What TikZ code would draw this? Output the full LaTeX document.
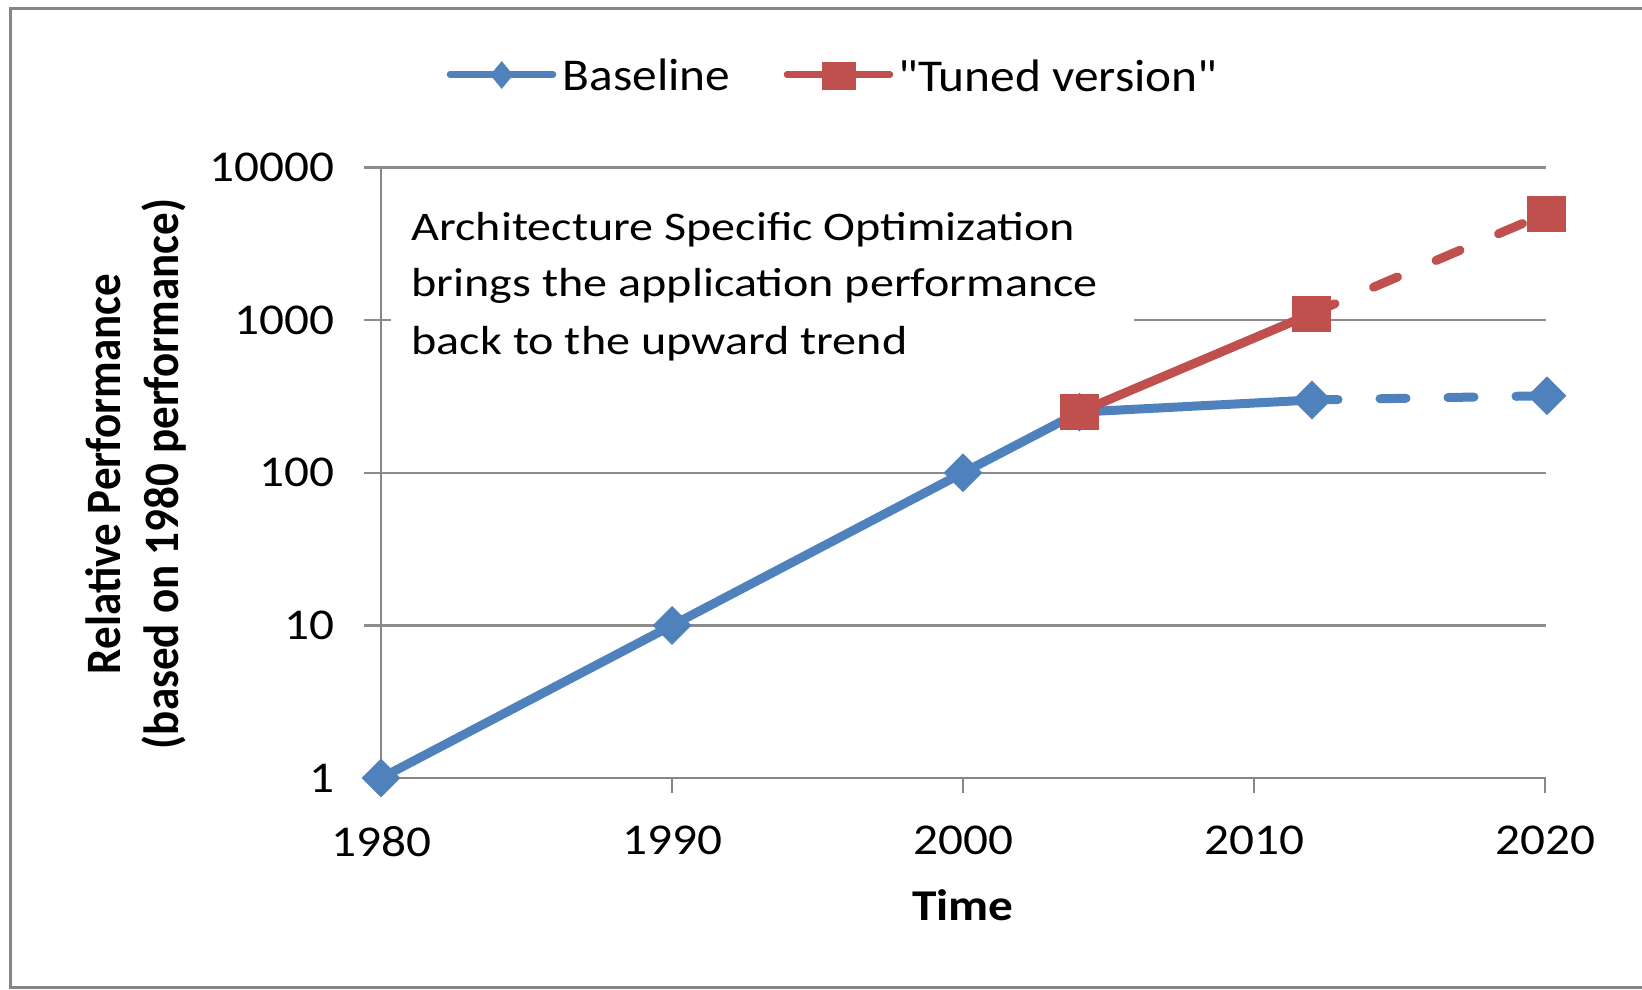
\documentclass[tikz,border=0pt]{standalone}
\usepackage{fontspec}
\setmainfont{Carlito}
\newfontfamily\legfont{Carlito}[FakeStretch=1.085]
\newfontfamily\tickfont{Carlito}[FakeStretch=1.12]
\newfontfamily\annfont{Carlito}[FakeStretch=1.185]
\usetikzlibrary{shapes.geometric}
\definecolor{seriesblue}{HTML}{4F81BD}
\definecolor{seriesred}{HTML}{C0504D}
\definecolor{gridgray}{HTML}{8C8C8C}
\definecolor{framegray}{HTML}{868686}
\tikzset{
  grid line/.style={draw=gridgray, line width=2.5pt},
  axis line/.style={draw=framegray, line width=2.5pt},
  series/.style={line width=9pt, line join=round, line cap=round},
  projection/.style={series, dash pattern=on 26pt off 42pt},
  basemark/.style={diamond, fill=seriesblue, inner sep=0pt, minimum width=39pt, minimum height=39pt},
  tunedmark/.style={rectangle, fill=seriesred, inner sep=0pt, minimum width=39pt, minimum height=36pt},
  ticklabel/.style={font=\tickfont\fontsize{44}{50}\selectfont, inner sep=0pt, text=black},
  legendtext/.style={font=\legfont\fontsize{45.5}{52}\selectfont, inner sep=0pt, anchor=base west},
  annot/.style={font=\annfont\fontsize{40.6}{50}\selectfont, inner sep=0pt, anchor=base west},
  ytitle/.style={font=\fontsize{45}{52}\bfseries\selectfont, inner sep=0pt, rotate=90, anchor=base},
}
\begin{document}
\begin{tikzpicture}[x=1pt,y=-1pt]
\useasboundingbox[fill=white] (0,0) rectangle (1642,989);

% chart frame (open on the right)
\draw[framegray, line width=3pt] (1642,8) -- (10,8) -- (10,987) -- (1642,987);

% horizontal grid lines (decades) with their left ticks
\foreach \gy in {167.6,320.2,472.8,625.4}
  \draw[grid line] (364,\gy) -- (1546,\gy);
% axes
\draw[axis line] (364,778) -- (1546,778);
\draw[axis line] (381,167.6) -- (381,778);
\foreach \gx in {381,672,963,1254,1545}
  \draw[axis line] (\gx,778) -- (\gx,793);

% y tick labels
\node[ticklabel, anchor=east] (y4) at (335,167.6) {10000};
\node[ticklabel, anchor=east] (y3) at (335,320.2) {1000};
\node[ticklabel, anchor=east] (y2) at (335,472.8) {100};
\node[ticklabel, anchor=east] (y1) at (335,625.4) {10};
\node[ticklabel, anchor=east] (y0) at (335,778) {1};

% x tick labels
\node[ticklabel, anchor=north] (x1980) at (381,826) {1980};
\node[ticklabel, anchor=north] (x1990) at (672,826) {1990};
\node[ticklabel, anchor=north] (x2000) at (963,826) {2000};
\node[ticklabel, anchor=north] (x2010) at (1254,826) {2010};
\node[ticklabel, anchor=north] (x2020) at (1545,826) {2020};

% axis titles
\node[ticklabel, font=\tickfont\fontsize{44}{50}\bfseries\selectfont, anchor=base] (xtitle) at (963,920.5) {Time};
\node[ytitle] (ytitle1) at (120,474) {\scalebox{1}[1.1]{Relative Performance}};
\node[ytitle] (ytitle2) at (178,474) {\scalebox{1}[1.1]{(based on 1980 performance)}};

% annotation text box
\fill[white] (391,185) rectangle (1134,372);
\node[annot] (note1) at (411.4,240.7) {Architecture Specific Optimization};
\node[annot] (note2) at (411.4,296.7) {brings the application performance};
\node[annot] (note3) at (411.4,354) {back to the upward trend};

% data points
\coordinate (b1980) at (381,778);
\coordinate (b1990) at (672,625.4);
\coordinate (b2000) at (963,472.8);
\coordinate (b2004) at (1079.4,412.1);
\coordinate (b2012) at (1312,400);
\coordinate (b2020) at (1547,395.7);
\coordinate (t2004) at (1079.4,412.1);
\coordinate (t2012) at (1311,313.9);
\coordinate (t2020) at (1546,213.5);

% Baseline series
\draw[series, seriesblue] (b1980) -- (b1990) -- (b2000) -- (b2004) -- (b2012);
\draw[projection, seriesblue] (b2012) -- (b2020);
\foreach \p in {1980,1990,2000,2004,2012,2020}
  \node[basemark] (bm\p) at (b\p) {};

% Tuned series
\draw[series, seriesred] (t2004) -- (t2012);
\draw[projection, seriesred] (t2012) -- (t2020);
\foreach \p in {2004,2012,2020}
  \node[tunedmark] (tm\p) at (t\p) {};

% legend
\coordinate (lb0) at (450,74.5);
\coordinate (lb1) at (553,74.5);
\draw[seriesblue, line width=6.5pt, line cap=round] (lb0) -- (lb1);
\node[basemark, minimum width=23pt, minimum height=28pt] (lbm) at (501.7,75) {};
\node[legendtext] (lbt) at (562.7,90) {Baseline};
\coordinate (lt0) at (787,74.5);
\coordinate (lt1) at (890,74.5);
\draw[seriesred, line width=6.5pt, line cap=round] (lt0) -- (lt1);
\node[tunedmark, minimum width=34pt, minimum height=28pt] (ltm) at (839,76) {};
\node[legendtext] (ltt) at (898,91) {"Tuned version"};
\end{tikzpicture}
\end{document}
